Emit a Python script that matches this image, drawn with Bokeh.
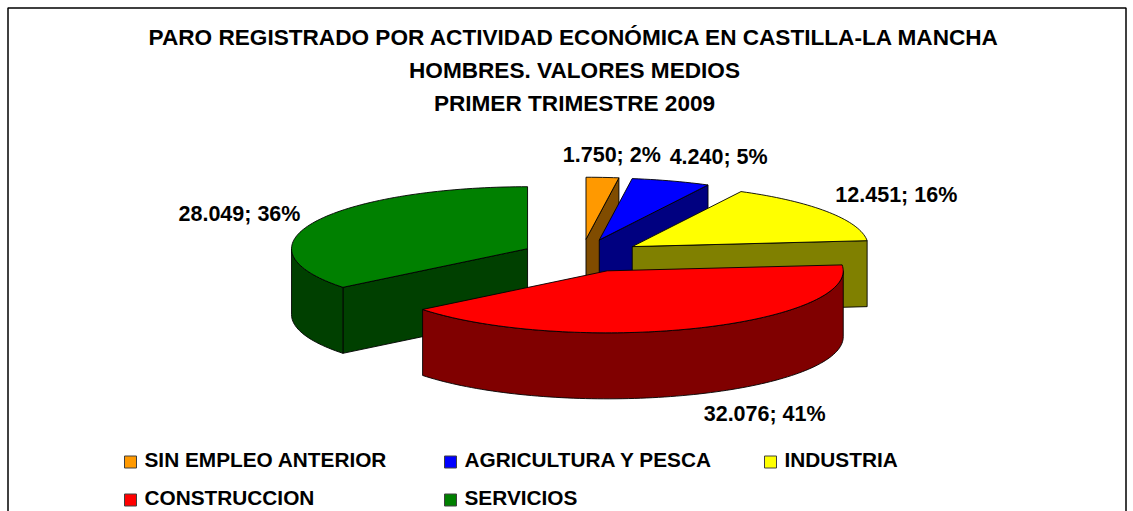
import math
from bokeh.embed import file_html
from bokeh.models import Range1d
from bokeh.plotting import figure
from bokeh.resources import INLINE
from bokeh.core.properties import value

TITLE_LINES = ["PARO REGISTRADO POR ACTIVIDAD ECONÓMICA EN CASTILLA-LA MANCHA",
               "HOMBRES. VALORES MEDIOS", "PRIMER TRIMESTRE 2009"]
CATEGORIES = ["SIN EMPLEO ANTERIOR", "AGRICULTURA Y PESCA", "INDUSTRIA", "CONSTRUCCION", "SERVICIOS"]
VALUES = [1750, 4240, 12451, 32076, 28049]
VALUE_LABELS = ["1.750", "4.240", "12.451", "32.076", "28.049"]
PERCENT_LABELS = ["2%", "5%", "16%", "41%", "36%"]
TOP_COLORS = ["#FF9900", "#0000FF", "#FFFF00", "#FF0000", "#008000"]
WALL_COLORS = ["#804C00", "#000080", "#808000", "#800000", "#004000"]

# layout constants (page pixels)
W, H = 1133, 511
FONT = "Liberation Sans"
CX, CY = 582.0, 255.5
RX, RY, DEPTH = 236.0, 62.0, 66.0
EXPLODE_X = [50.0, 55.0, 60.0, 66.0, 61.0]
EXPLODE_Y = [16.8, 16.8, 16.8, 16.0, 16.8]
LABEL_OFFSET = [(9.3, -22), (47.5, -23.5), (68.5, -16.5), (69, 86), (-75.5, -7.5)]
DRAW_ORDER = [0, 1, 2, 4, 3]

p = figure(width=W, height=H, x_range=Range1d(0, W), y_range=Range1d(H, 0),
           toolbar_location=None, output_backend="svg", min_border=0, outline_line_color=None)
p.axis.visible = False
p.grid.visible = False

# frame (clipped at the bottom of the window, as in the reference)
p.line([7.5, 7.5, 1125.5, 1125.5], [511, 7.5, 7.5, 511], line_color="black", line_width=1.5)

total = sum(VALUES)
cum = 0.0
slices = []
for i, v in enumerate(VALUES):
    a0 = cum / total * 360
    cum += v
    a1 = cum / total * 360
    mid = math.radians((a0 + a1) / 2)
    ax = CX + EXPLODE_X[i] * math.sin(mid)
    ay = CY - EXPLODE_Y[i] * math.cos(mid)
    slices.append((a0, a1, mid, ax, ay))


def rim(ax, ay, deg):
    r = math.radians(deg)
    return ax + RX * math.sin(r), ay - RY * math.cos(r)


def arc(ax, ay, d0, d1):
    n = max(2, int(abs(d1 - d0) / 1.5) + 2)
    pts = [rim(ax, ay, d0 + (d1 - d0) * k / (n - 1)) for k in range(n)]
    return [q[0] for q in pts], [q[1] for q in pts]


def poly(xs, ys, color):
    p.patch(xs, ys, fill_color=color, line_color="black", line_width=0.9, line_join="round")


for i in DRAW_ORDER:
    a0, a1, mid, ax, ay = slices[i]
    # radial walls that face the viewer
    for edge, visible in ((a0, 180 < a0 < 360), (a1, 0 < a1 < 180)):
        if visible:
            rx, ry = rim(ax, ay, edge)
            poly([ax, rx, rx, ax], [ay, ry, ry + DEPTH, ay + DEPTH], WALL_COLORS[i])
    # outer wall: the part of the rim at the front of the pie
    lo, hi = max(a0, 90.0), min(a1, 270.0)
    if lo < hi:
        xs, ys = arc(ax, ay, lo, hi)
        poly(xs + xs[::-1], ys + [y + DEPTH for y in ys[::-1]], WALL_COLORS[i])
    # top face
    xs, ys = arc(ax, ay, a0, a1)
    poly([ax] + xs, [ay] + ys, TOP_COLORS[i])
    # data label
    mx, my = rim(ax, ay, math.degrees(mid))
    dx, dy = LABEL_OFFSET[i]
    p.text([mx + dx], [my + dy], text=[f"{VALUE_LABELS[i]}; {PERCENT_LABELS[i]}"],
           text_font=value(FONT), text_font_style="bold", text_font_size="21.5px",
           text_align="center", text_baseline="alphabetic", text_color="black")

# title
for line, by in zip(TITLE_LINES, (37, 70, 103)):
    p.text([574], [by], text=[line], text_font=value(FONT), text_font_style="bold",
           text_font_size="22.6px", text_align="center", text_baseline="alphabetic", text_color="black")

# legend
COLS = (124, 444, 764)
ROWS = (455.5, 493.5)
SW = 12
for i, name in enumerate(CATEGORIES):
    x0 = COLS[i % 3]
    y0 = ROWS[i // 3]
    p.quad(left=[x0], right=[x0 + SW], top=[y0], bottom=[y0 + SW], fill_color=TOP_COLORS[i],
           line_color="#404040", line_width=1)
    p.text([x0 + 20], [y0 + 3], text=[name], text_font=value(FONT), text_font_style="bold",
           text_font_size="20.8px", text_align="left", text_baseline="alphabetic", text_color="black")

open("out.html", "w").write(file_html(p, INLINE))
